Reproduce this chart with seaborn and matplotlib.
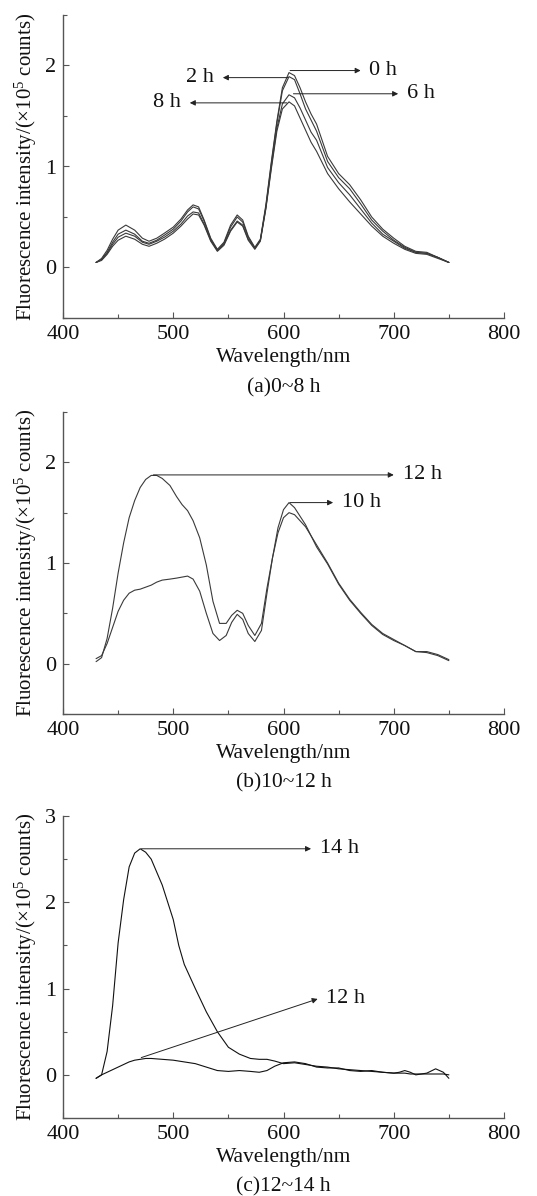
import matplotlib
matplotlib.use("Agg")
import matplotlib.pyplot as plt
import seaborn as sns
from matplotlib.ticker import MultipleLocator

sns.set_style("ticks")
plt.rcParams['font.family'] = ['Liberation Serif', 'DejaVu Serif']
plt.rcParams['mathtext.fontset'] = 'custom'
plt.rcParams['mathtext.rm'] = 'Liberation Serif'
plt.rcParams['mathtext.it'] = 'Liberation Serif:italic'

# ---------------- data ----------------
wl_a = [430, 435, 440, 445, 450, 457, 465, 472, 478, 485, 492, 500, 507, 513, 518, 523, 528, 534,
        540, 546, 552, 558, 563, 568, 574, 579, 584, 589, 594, 599, 605, 610, 615, 620, 625, 630,
        640, 650, 660, 670, 680, 690, 700, 710, 720, 730, 740, 750]
a_0h = [0.05, 0.09, 0.17, 0.28, 0.37, 0.42, 0.37, 0.29, 0.26, 0.29, 0.34, 0.40, 0.48, 0.57, 0.62, 0.60, 0.47, 0.29,
        0.18, 0.25, 0.42, 0.52, 0.47, 0.31, 0.20, 0.28, 0.62, 1.05, 1.45, 1.78, 1.93, 1.90, 1.78, 1.64, 1.52, 1.42,
        1.10, 0.93, 0.82, 0.67, 0.50, 0.38, 0.29, 0.21, 0.16, 0.15, 0.10, 0.05]
a_2h = [0.05, 0.08, 0.15, 0.25, 0.33, 0.37, 0.33, 0.26, 0.24, 0.27, 0.32, 0.38, 0.46, 0.55, 0.60, 0.58, 0.46, 0.28,
        0.17, 0.24, 0.40, 0.50, 0.45, 0.30, 0.19, 0.27, 0.60, 1.03, 1.43, 1.75, 1.89, 1.86, 1.72, 1.57, 1.46, 1.35,
        1.05, 0.89, 0.78, 0.63, 0.47, 0.36, 0.27, 0.20, 0.15, 0.14, 0.10, 0.05]
a_6h = [0.05, 0.08, 0.14, 0.23, 0.30, 0.34, 0.31, 0.25, 0.23, 0.26, 0.30, 0.36, 0.43, 0.51, 0.55, 0.54, 0.43, 0.27,
        0.17, 0.23, 0.37, 0.46, 0.42, 0.28, 0.19, 0.27, 0.59, 1.00, 1.38, 1.62, 1.71, 1.68, 1.58, 1.46, 1.34, 1.26,
        0.99, 0.84, 0.72, 0.58, 0.44, 0.33, 0.26, 0.19, 0.15, 0.14, 0.10, 0.05]
a_8h = [0.05, 0.07, 0.13, 0.21, 0.27, 0.31, 0.28, 0.23, 0.21, 0.24, 0.28, 0.34, 0.41, 0.48, 0.53, 0.52, 0.42, 0.26,
        0.16, 0.22, 0.36, 0.45, 0.41, 0.27, 0.18, 0.26, 0.58, 0.98, 1.35, 1.57, 1.64, 1.60, 1.48, 1.36, 1.24, 1.15,
        0.93, 0.78, 0.65, 0.53, 0.41, 0.31, 0.24, 0.18, 0.14, 0.13, 0.09, 0.05]

wl_b = [430, 435, 440, 445, 450, 455, 460, 465, 470, 475, 480, 485, 490, 497, 503, 508, 513, 518, 524, 530,
        536, 542, 548, 553, 558, 563, 568, 574, 580, 585, 590, 595, 600, 605, 610, 620, 630, 640, 650, 660,
        670, 680, 690, 700, 710, 720, 730, 740, 750]
b_12h = [0.02, 0.06, 0.25, 0.55, 0.90, 1.20, 1.45, 1.62, 1.75, 1.83, 1.87, 1.87, 1.84, 1.77, 1.66, 1.58, 1.52, 1.42,
         1.25, 0.98, 0.62, 0.40, 0.40, 0.48, 0.53, 0.50, 0.38, 0.28, 0.40, 0.75, 1.05, 1.30, 1.45, 1.50, 1.48, 1.36,
         1.18, 1.00, 0.80, 0.64, 0.51, 0.39, 0.30, 0.24, 0.18, 0.12, 0.12, 0.09, 0.04]
b_10h = [0.05, 0.08, 0.20, 0.36, 0.52, 0.63, 0.70, 0.73, 0.74, 0.76, 0.78, 0.81, 0.83, 0.84, 0.85, 0.86, 0.87, 0.84,
         0.72, 0.50, 0.30, 0.23, 0.28, 0.41, 0.49, 0.44, 0.30, 0.22, 0.33, 0.70, 1.05, 1.35, 1.53, 1.60, 1.55, 1.38,
         1.16, 0.99, 0.79, 0.63, 0.50, 0.38, 0.29, 0.23, 0.18, 0.12, 0.11, 0.08, 0.03]

wl_c = [430, 435, 440, 445, 450, 455, 460, 465, 470, 475, 480, 490, 500, 505, 510, 520, 530, 540, 550, 560,
        570, 578, 585, 592, 600, 610, 620, 630, 640, 650, 660, 670, 680, 690, 700, 705, 710, 715, 720, 725,
        730, 738, 745, 750]
c_14h = [-0.04, 0.00, 0.27, 0.80, 1.53, 2.03, 2.41, 2.57, 2.62, 2.58, 2.50, 2.20, 1.80, 1.50, 1.28, 1.00, 0.73, 0.50,
         0.32, 0.24, 0.19, 0.18, 0.18, 0.16, 0.13, 0.14, 0.12, 0.10, 0.09, 0.07, 0.06, 0.05, 0.04, 0.03, 0.02, 0.02,
         0.02, 0.01, 0.01, 0.01, 0.01, 0.01, 0.01, 0.00]
c_12h = [-0.04, 0.00, 0.03, 0.06, 0.09, 0.12, 0.15, 0.17, 0.18, 0.19, 0.19, 0.18, 0.17, 0.16, 0.15, 0.13, 0.09, 0.05,
         0.04, 0.05, 0.04, 0.03, 0.05, 0.10, 0.14, 0.15, 0.13, 0.09, 0.08, 0.08, 0.05, 0.04, 0.05, 0.03, 0.02, 0.03,
         0.05, 0.03, 0.00, 0.01, 0.02, 0.07, 0.03, -0.04]

# annotation: label, start (x, y), end (x, y), text side
ann_a = [("0 h", (606, 1.95), (670, 1.95), "right"),
         ("2 h", (604, 1.88), (545, 1.88), "left"),
         ("6 h", (609, 1.72), (704, 1.72), "right"),
         ("8 h", (603, 1.63), (515, 1.63), "left")]
ann_b = [("12 h", (482, 1.875), (700, 1.875), "right"),
         ("10 h", (606, 1.60), (645, 1.60), "right")]
ann_c = [("14 h", (471, 2.62), (625, 2.62), "right"),
         ("12 h", (471, 0.20), (631, 0.88), "right")]

captions = ["(a)0~8 h", "(b)10~12 h", "(c)12~14 h"]
ylabel = "Fluorescence intensity/(×10$^5$ counts)"
xlabel = "Wavelength/nm"

# ---------------- figure ----------------
fig = plt.figure(figsize=(5.37, 11.96), dpi=100)
W, H = 537, 1196

def make_ax(top_px, bottom_px, left_px=63, right_px=504):
    return fig.add_axes([left_px / W, 1 - bottom_px / H, (right_px - left_px) / W, (bottom_px - top_px) / H])

axes = [make_ax(15, 318), make_ax(412, 714), make_ax(816, 1118)]
ylims = [(-0.5, 2.5), (-0.5, 2.5), (-0.5, 3.0)]
axcol = "#555555"

panels = [
    (wl_a, [a_0h, a_2h, a_6h, a_8h], ann_a, "#3a3a3a"),
    (wl_b, [b_12h, b_10h], ann_b, "#3a3a3a"),
    (wl_c, [c_14h, c_12h], ann_c, "#111111"),
]

for ax, (wl, curves, anns, lc), ylim, cap in zip(axes, panels, ylims, captions):
    for vals in curves:
        sns.lineplot(x=wl, y=vals, ax=ax, color=lc, lw=0.8, sort=False, legend=False)
    ax.set_xlim(400, 800)
    ax.set_ylim(*ylim)
    ax.xaxis.set_major_locator(MultipleLocator(100))
    ax.xaxis.set_minor_locator(MultipleLocator(50))
    ax.yaxis.set_major_locator(MultipleLocator(1))
    ax.yaxis.set_minor_locator(MultipleLocator(0.5))
    ax.tick_params(which="major", direction="in", length=4, width=0.8, color=axcol,
                   labelsize=16, labelcolor="#111111")
    ax.tick_params(which="minor", direction="in", length=3, width=0.8, color=axcol)
    ax.tick_params(axis="y", pad=5)
    ax.tick_params(axis="x", pad=5)
    for s in ["top", "right"]:
        ax.spines[s].set_visible(False)
    for s in ["left", "bottom"]:
        ax.spines[s].set_color(axcol)
        ax.spines[s].set_linewidth(1.0)
    ax.set_ylabel(ylabel, fontsize=15, labelpad=4, color="#111111")
    ax.set_xlabel(xlabel, fontsize=15.5, labelpad=3, color="#111111")
    ax.text(0.5, -0.229, cap, transform=ax.transAxes, ha="center", va="center", fontsize=15.5, color="#111111")
    for lab, start, end, side in anns:
        ax.annotate("", xy=end, xytext=start,
                    arrowprops=dict(arrowstyle="-|>", lw=0.7, color="#222222", mutation_scale=8,
                                    shrinkA=0, shrinkB=0))
        if side == "right":
            ax.text(end[0] + 8, end[1], lab, ha="left", va="center", fontsize=16, color="#111111")
        else:
            ax.text(end[0] - 8, end[1], lab, ha="right", va="center", fontsize=16, color="#111111")

fig.savefig("out.png", dpi=100)
